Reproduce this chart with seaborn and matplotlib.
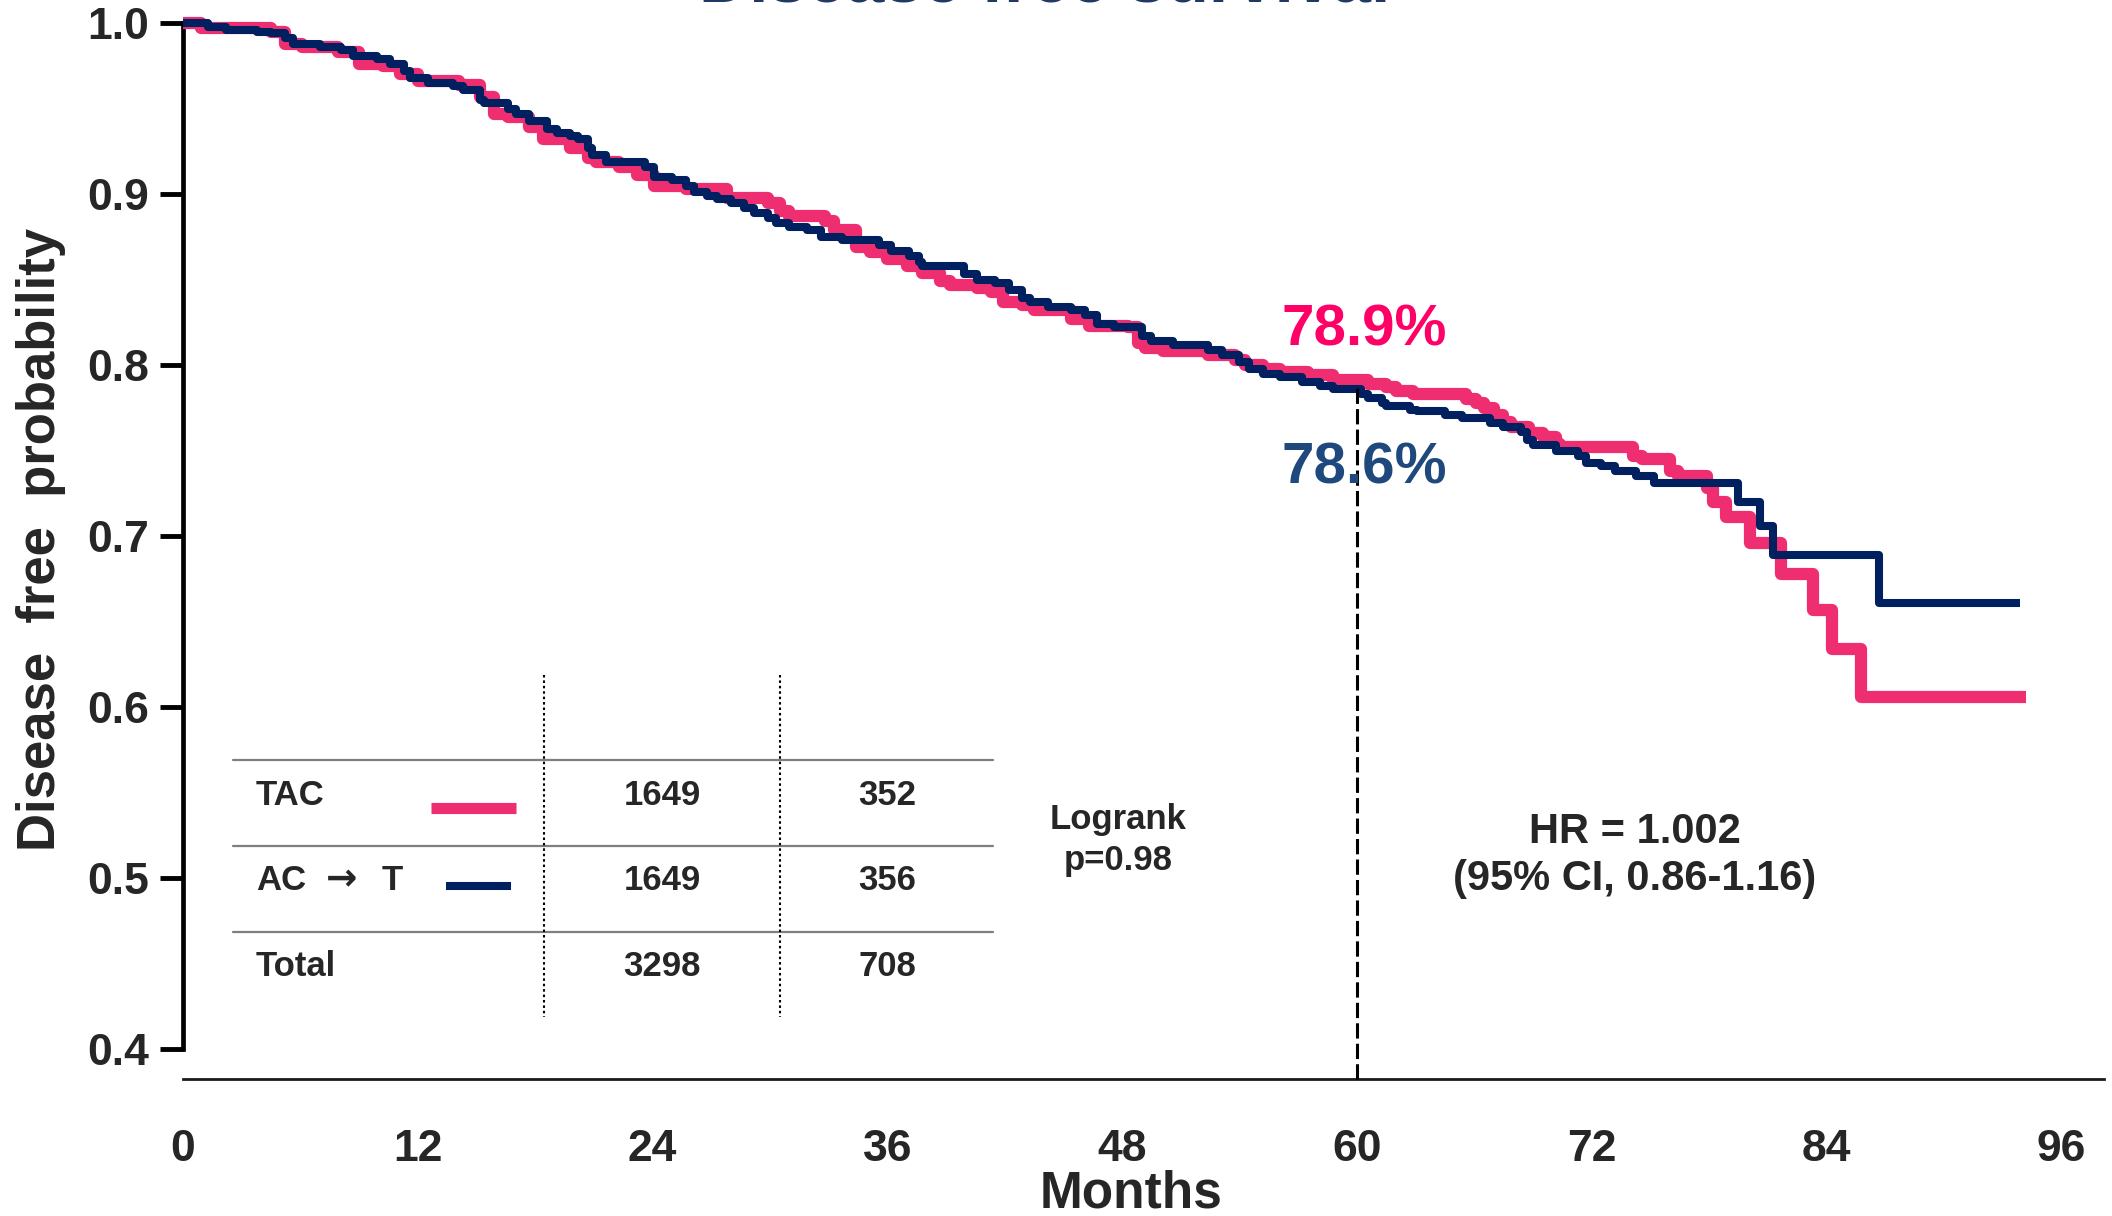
import matplotlib
matplotlib.use("Agg")
import matplotlib.pyplot as plt
from matplotlib.lines import Line2D
import seaborn as sns

# ---------------- data ----------------
months_tac = [0, 0.9, 4.5, 5.2, 6.1, 7.9, 9.0, 10.2, 11.1, 12.0, 14.1, 15.2, 15.9, 16.6, 17.7,
              18.4, 19.8, 20.7, 21.1, 22.3, 23.2, 24.1, 25.7, 27.8, 29.9, 30.5, 31.0, 32.8, 33.3,
              34.4, 35.1, 36.0, 37.0, 37.8, 38.7, 39.2, 40.6, 41.3, 41.9, 42.9, 43.5, 45.4, 46.3,
              48.3, 48.8, 49.2, 50.1, 52.4, 53.8, 54.3, 55.2, 56.1, 57.5, 58.8, 60.6, 61.5, 62.0,
              62.9, 65.6, 66.1, 66.5, 67.0, 67.5, 67.9, 68.8, 69.5, 70.2, 70.4, 74.1, 74.6, 76.0,
              76.4, 77.9, 78.2, 78.9, 80.1, 81.7, 83.3, 84.3, 85.8, 94.2]
surv_tac = [1.000, 0.997, 0.995, 0.988, 0.986, 0.983, 0.976, 0.975, 0.970, 0.966, 0.964, 0.957,
            0.947, 0.945, 0.939, 0.932, 0.927, 0.921, 0.919, 0.916, 0.911, 0.905, 0.903, 0.898,
            0.895, 0.890, 0.887, 0.884, 0.879, 0.869, 0.866, 0.862, 0.858, 0.854, 0.849, 0.847,
            0.845, 0.843, 0.837, 0.835, 0.832, 0.827, 0.823, 0.822, 0.813, 0.810, 0.808, 0.806,
            0.803, 0.800, 0.798, 0.796, 0.794, 0.791, 0.789, 0.787, 0.785, 0.783, 0.780, 0.778,
            0.775, 0.771, 0.767, 0.764, 0.760, 0.758, 0.754, 0.752, 0.747, 0.745, 0.738, 0.735,
            0.728, 0.720, 0.711, 0.696, 0.678, 0.657, 0.634, 0.606, 0.606]

months_act = [0, 1.3, 2.2, 3.8, 4.5, 5.2, 5.6, 7.0, 8.1, 8.7, 9.9, 10.6, 11.3, 11.6, 12.5, 13.8,
              14.3, 15.2, 15.4, 16.6, 17.0, 17.7, 18.6, 19.1, 19.8, 20.2, 20.7, 20.9, 21.6, 23.6,
              24.1, 25.0, 25.7, 26.1, 26.8, 27.3, 28.0, 28.7, 29.2, 29.9, 30.3, 31.0, 31.9, 32.6,
              33.7, 35.6, 36.2, 37.1, 37.6, 37.8, 39.9, 40.6, 41.5, 42.2, 42.9, 43.3, 44.2, 45.4,
              46.1, 46.7, 47.6, 49.0, 49.5, 50.6, 52.4, 53.1, 54.0, 54.5, 55.2, 56.1, 57.2, 58.1,
              58.8, 60.2, 60.6, 61.3, 61.5, 62.7, 63.1, 64.5, 65.4, 66.8, 67.5, 68.4, 68.7, 69.0,
              70.2, 71.3, 71.7, 72.5, 73.2, 74.3, 75.2, 79.5, 80.6, 81.3, 86.7, 93.9]
surv_act = [1.000, 0.998, 0.996, 0.995, 0.994, 0.991, 0.988, 0.986, 0.984, 0.981, 0.979, 0.976,
            0.972, 0.968, 0.965, 0.963, 0.961, 0.955, 0.953, 0.950, 0.947, 0.943, 0.938, 0.936,
            0.934, 0.932, 0.927, 0.923, 0.919, 0.916, 0.910, 0.908, 0.905, 0.901, 0.899, 0.897,
            0.895, 0.892, 0.889, 0.886, 0.883, 0.881, 0.879, 0.875, 0.873, 0.870, 0.867, 0.864,
            0.860, 0.858, 0.853, 0.850, 0.848, 0.844, 0.839, 0.837, 0.834, 0.832, 0.829, 0.824,
            0.822, 0.817, 0.814, 0.812, 0.809, 0.806, 0.802, 0.798, 0.795, 0.793, 0.790, 0.788,
            0.786, 0.783, 0.781, 0.778, 0.776, 0.774, 0.773, 0.771, 0.769, 0.766, 0.764, 0.761,
            0.756, 0.753, 0.750, 0.747, 0.743, 0.741, 0.738, 0.735, 0.731, 0.720, 0.706, 0.689,
            0.661, 0.661]

x_ticks = [0, 12, 24, 36, 48, 60, 72, 84, 96]
y_ticks = [0.4, 0.5, 0.6, 0.7, 0.8, 0.9, 1.0]

landmark_month = 60
landmark_tac = "78.9%"
landmark_act = "78.6%"

table_rows = ["TAC", "AC \u2192 T", "Total"]
table_patients = [1649, 1649, 3298]
table_events = [352, 356, 708]

logrank_text = ["Logrank", "p=0.98"]
hr_text = ["HR = 1.002", "(95% CI, 0.86-1.16)"]
title_text = "Disease free survival"

PINK = "#EF2E71"
NAVY = "#002060"
PINK_TXT = "#FF0066"
BLUE_TXT = "#1F497D"

# ---------------- style ----------------
sns.set_style("white")
plt.rcParams["font.family"] = ["Liberation Sans", "DejaVu Sans"]
plt.rcParams["font.weight"] = "bold"

W, H = 2112, 1216
fig = plt.figure(figsize=(W / 100, H / 100), dpi=100)


def fx(px):
    return px / W


def fy(py):
    return 1 - py / H


ax = fig.add_axes([fx(183), fy(1079), (2104 - 183) / W, 1079 / H])

sns.lineplot(x=months_tac, y=surv_tac, ax=ax, color=PINK, lw=8.8, drawstyle="steps-post",
             estimator=None, sort=False, solid_joinstyle="round", solid_capstyle="butt", zorder=3)
sns.lineplot(x=months_act, y=surv_act, ax=ax, color=NAVY, lw=5.8, drawstyle="steps-post",
             estimator=None, sort=False, solid_joinstyle="round", solid_capstyle="butt", zorder=4)

ax.set_xlim(0, 98.2)
ax.set_ylim(0.3825, 1.0135)
ax.set_xticks(x_ticks)
ax.set_xticklabels([str(t) for t in x_ticks])
ax.set_yticks(y_ticks)
ax.set_yticklabels([f"{v:.1f}" for v in y_ticks])

for s in ["top", "right"]:
    ax.spines[s].set_visible(False)
ax.spines["left"].set_bounds(0.4, 1.0)
ax.spines["left"].set_linewidth(3.4)
ax.spines["left"].set_color("black")
ax.spines["bottom"].set_linewidth(2.0)
ax.spines["bottom"].set_color("#1a1a1a")

ax.tick_params(axis="y", left=True, direction="out", length=16.5, width=3.5, pad=8,
               labelsize=32, color="black")
ax.tick_params(axis="x", bottom=False, length=0, pad=36, labelsize=32)
ax.grid(False)

ax.set_xlabel("Months", fontsize=37, fontweight="bold", labelpad=0)
ax.xaxis.label.set_x(0.4935)
ax.set_ylabel("Disease  free  probability", fontsize=38, fontweight="bold", labelpad=15)

# landmark dashed line at 5 years
ax.plot([landmark_month, landmark_month], [0.3825, 0.788], color="black", lw=2.2,
        dashes=(5, 1.7), zorder=5, clip_on=False)

# title (clipped at the top edge in the reference)
fig.text(fx(1045), fy(1.5), title_text, ha="center", va="baseline", fontsize=50,
         fontweight="bold", color="#1F3864")

# landmark percentages
fig.text(fx(1364), fy(345), landmark_tac, ha="center", va="baseline", fontsize=42,
         fontweight="bold", color=PINK_TXT)
fig.text(fx(1364), fy(483), landmark_act, ha="center", va="baseline", fontsize=42,
         fontweight="bold", color=BLUE_TXT, zorder=10)

# ---------------- at-risk / events table ----------------
for ypx in [760, 846, 932]:
    fig.add_artist(Line2D([fx(233), fx(993)], [fy(ypx), fy(ypx)], transform=fig.transFigure,
                          color="#7F7F7F", lw=1.6))
for xpx in [544, 780]:
    fig.add_artist(Line2D([fx(xpx), fx(xpx)], [fy(675), fy(1017)], transform=fig.transFigure,
                          color="black", lw=1.5, linestyle=(0, (1.2, 1.4))))

row_base = [805, 890, 976]
for lab, n, ev, yb in zip(table_rows, table_patients, table_events, row_base):
    if "\u2192" in lab:
        left, right = lab.split("\u2192")
        fig.text(fx(256), fy(yb), left.strip(), ha="left", va="baseline", fontsize=25,
                 fontweight="bold")
        fig.text(fx(342), fy(yb), "\u2192", ha="center", va="baseline", fontsize=27,
                 fontweight="bold", family="DejaVu Sans")
        fig.text(fx(382), fy(yb), right.strip(), ha="left", va="baseline", fontsize=25,
                 fontweight="bold")
    else:
        fig.text(fx(256), fy(yb), lab, ha="left", va="baseline", fontsize=25, fontweight="bold")
    fig.text(fx(662), fy(yb), str(n), ha="center", va="baseline", fontsize=25, fontweight="bold")
    fig.text(fx(887), fy(yb), str(ev), ha="center", va="baseline", fontsize=25, fontweight="bold")

# legend swatches in table
fig.add_artist(Line2D([fx(431), fx(516)], [fy(808), fy(808)], transform=fig.transFigure,
                      color=PINK, lw=8.0, solid_capstyle="butt"))
fig.add_artist(Line2D([fx(446), fx(511)], [fy(886), fy(886)], transform=fig.transFigure,
                      color=NAVY, lw=5.8, solid_capstyle="butt"))

# logrank and HR
fig.text(fx(1118), fy(829), logrank_text[0], ha="center", va="baseline", fontsize=25,
         fontweight="bold")
fig.text(fx(1118), fy(870), logrank_text[1], ha="center", va="baseline", fontsize=25,
         fontweight="bold")
fig.text(fx(1635), fy(843), hr_text[0], ha="center", va="baseline", fontsize=30,
         fontweight="bold")
fig.text(fx(1635), fy(890), hr_text[1], ha="center", va="baseline", fontsize=30,
         fontweight="bold")

fig.savefig("out.png", dpi=100, facecolor="white")
